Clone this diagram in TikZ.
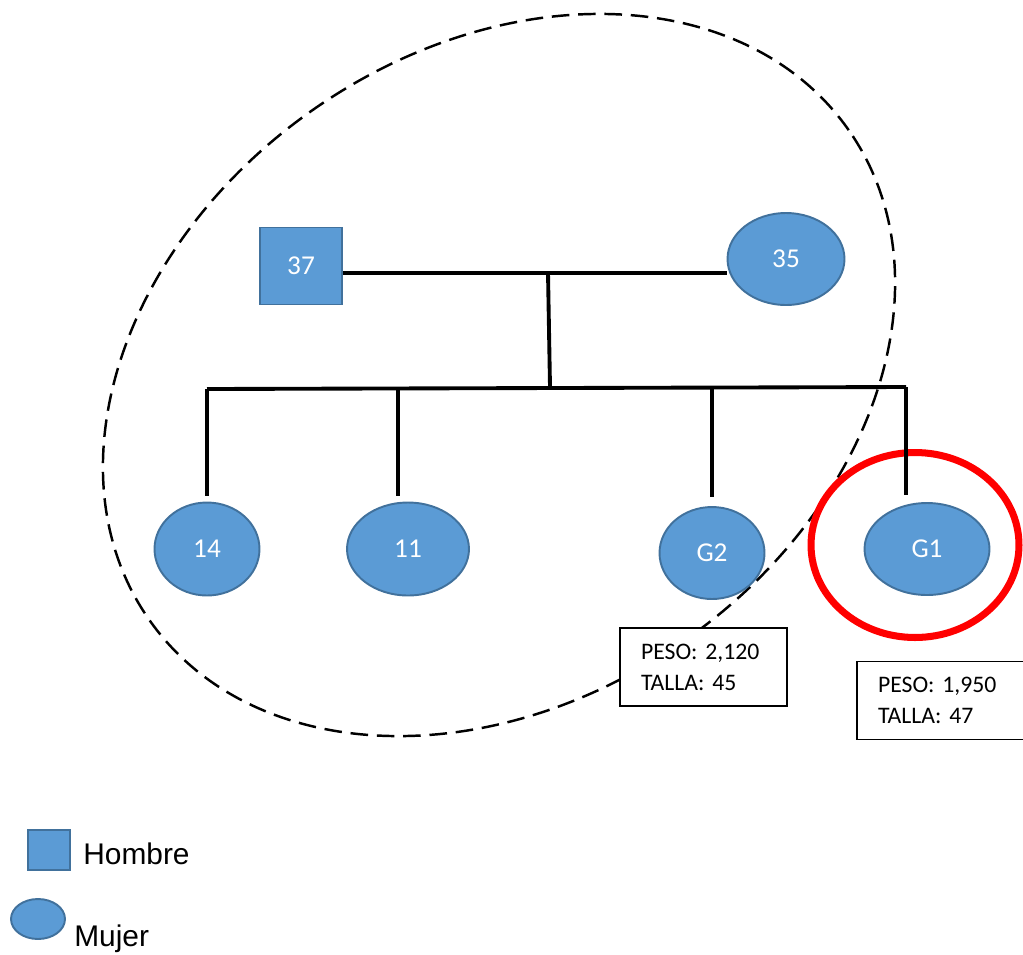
\documentclass[tikz,border=0pt]{standalone}
\usepackage{fontspec}
\setmainfont{Carlito}
\newfontfamily\legendfont{Liberation Sans}
\usepackage{tikz}
\usetikzlibrary{shapes.geometric, positioning}
\definecolor{personfill}{HTML}{5B9BD5}
\definecolor{persondraw}{HTML}{41719C}
\frenchspacing

\begin{document}
\begin{tikzpicture}[x=0.02cm, y=-0.02cm,
  man/.style={draw=persondraw, fill=personfill, line width=1.1pt, rectangle, inner sep=0pt,
    text=white, font=\fontsize{15.5}{18}\selectfont},
  woman/.style={draw=persondraw, fill=personfill, line width=1.1pt, ellipse, inner sep=0pt,
    text=white, font=\fontsize{15.5}{18}\selectfont},
  link/.style={line width=2.2pt},
  infobox/.style={draw, fill=white, line width=1.1pt, rectangle, minimum width=3.34cm,
    minimum height=1.56cm, text width=2.5cm, inner xsep=0.42cm, align=left,
    font=\fontsize{13.5}{17.6}\selectfont}]
\useasboundingbox (0,0) rectangle (1023,954);
\coordinate (ctr) at (499,375);
\draw[line width=1.4pt, dash pattern=on 10pt off 5pt, rotate around={35:(ctr)}] (ctr) ellipse [x radius=8.54cm, y radius=6.48cm];
\node[draw=red, line width=4pt, ellipse, minimum width=4.16cm, minimum height=3.7cm] (ring) at (915,545) {};
\node[man, minimum width=1.64cm, minimum height=1.54cm] (m37) at (301,266) {37};
\node[woman, minimum width=2.34cm, minimum height=1.84cm] (f35) at (786,259) {35};
\node[woman, minimum width=2.1cm, minimum height=1.86cm] (c14) at (207,549) {14};
\node[woman, minimum width=2.44cm, minimum height=1.86cm] (c11) at (408,549) {11};
\node[woman, minimum width=2.1cm, minimum height=1.84cm] (g2) at (712,553) {G2};
\node[woman, minimum width=2.5cm, minimum height=1.84cm] (g1) at (927,549) {G1};
\coordinate (mid) at (548,273);
\coordinate (sib) at (550,387);
\coordinate (barL) at (207,389);
\coordinate (barR) at (906,387);
\coordinate (b11) at (398,388);
\coordinate (bg2) at (712,388);
\draw[link] (m37.east |- mid) -- (f35.west |- mid);
\draw[link] (mid) -- (sib);
\draw[link] (barL) -- (barR);
\draw[link, shorten >=3pt] (barL) -- (c14.north);
\draw[link, shorten >=3pt] (b11) -- (b11 |- c11.north);
\draw[link, shorten >=5pt] (bg2) -- (g2.north);
\draw[link, shorten >=4pt] (barR) -- (barR |- g1.north);
\node[infobox] (w2) at (703.5,667) {PESO: 2,120\\TALLA: 45};
\node[infobox] (w1) at (940.5,700.5) {PESO: 1,950\\TALLA: 47};
\node[man, minimum width=0.84cm, minimum height=0.8cm] (keyman) at (49,850) {};
\node[woman, minimum width=1.08cm, minimum height=0.8cm] (keywoman) at (38,919) {};
\node[anchor=base west, inner sep=0pt, font=\legendfont\fontsize{17}{20}\selectfont] (hombre) at (83,864) {Hombre};
\node[anchor=base west, inner sep=0pt, font=\legendfont\fontsize{17}{20}\selectfont] (mujer) at (74,946) {Mujer};
\end{tikzpicture}
\end{document}
